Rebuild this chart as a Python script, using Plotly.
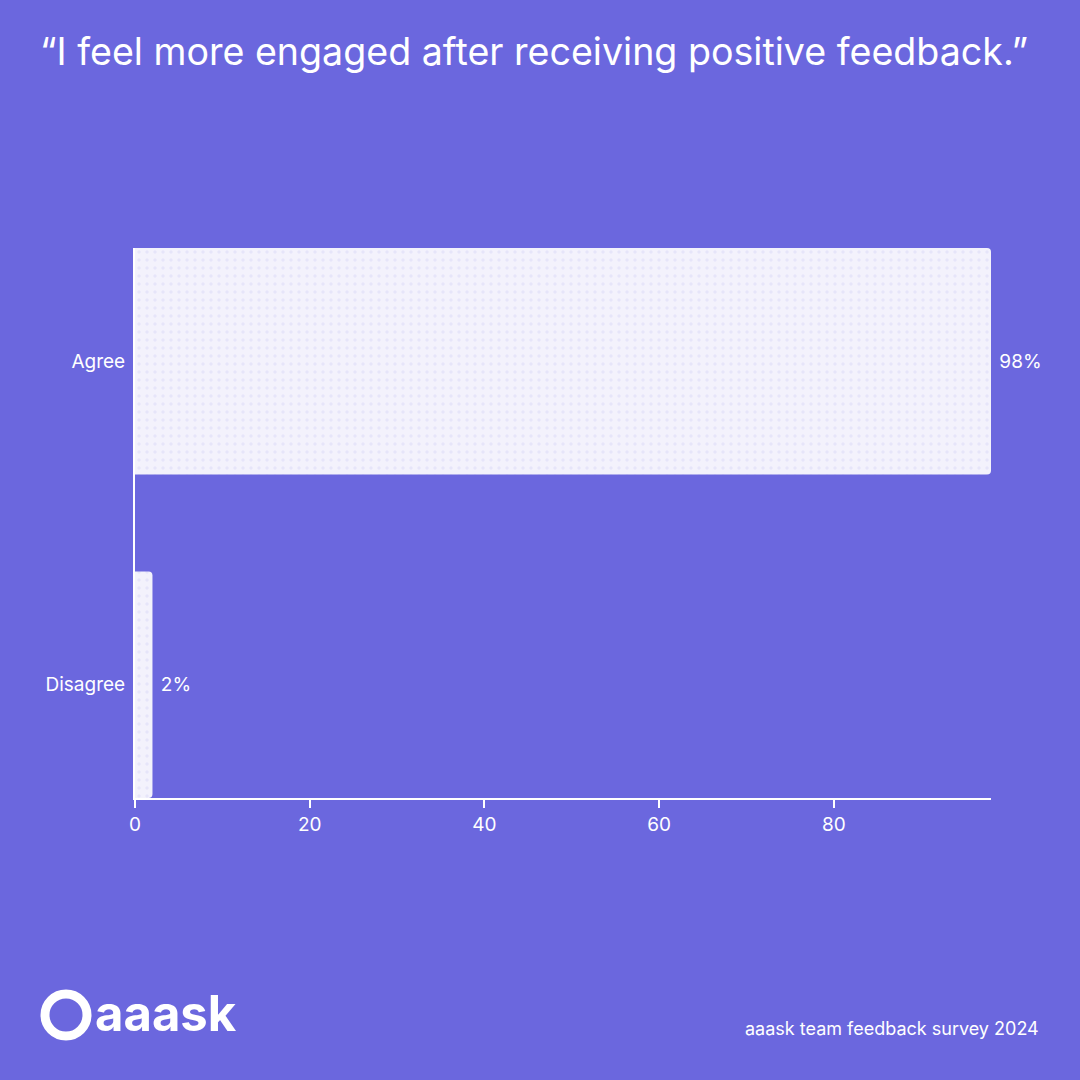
import plotly.graph_objects as go

categories = ["Disagree", "Agree"]
values = [2, 98]
labels = ["2%", "98%"]
x_ticks = [0, 20, 40, 60, 80]

BG = "#6B67DE"
FONT = "Inter"

fig = go.Figure(
    go.Bar(
        x=values,
        y=categories,
        orientation="h",
        width=0.7,
        text=[" " + s for s in labels],
        textposition="outside",
        textfont=dict(color="white", size=19, family=FONT),
        cliponaxis=False,
        marker=dict(
            color="#F3F2FC",
            line=dict(width=0),
            cornerradius=4,
            pattern=dict(shape=".", fgcolor="#D9D7F5", bgcolor="#F3F2FC", size=8, solidity=0.15),
        ),
    )
)

fig.update_layout(
    width=1080,
    height=1080,
    paper_bgcolor=BG,
    plot_bgcolor=BG,
    margin=dict(l=135, r=89, t=248, b=282),
    font=dict(family=FONT, color="white", size=19),
    showlegend=False,
    xaxis=dict(
        range=[0, 98],
        tickvals=x_ticks,
        showgrid=False,
        zeroline=False,
        showline=True,
        linecolor="white",
        linewidth=2,
        ticks="outside",
        tickcolor="white",
        tickwidth=2,
        ticklen=8,
        tickfont=dict(size=19),
    ),
    yaxis=dict(
        range=[-0.35, 1.35],
        showgrid=False,
        zeroline=False,
        showline=True,
        linecolor="white",
        linewidth=2,
        ticks="",
        ticklabelstandoff=4,
        tickfont=dict(size=19),
    ),
)

fig.add_annotation(
    text="\u201cI feel more engaged after receiving positive feedback.\u201d",
    xref="paper", yref="paper", x=-(135 - 38) / 856, y=1 + (248 - 52) / 550,
    xanchor="left", yanchor="middle", showarrow=False,
    font=dict(size=37.6, color="white", family=FONT),
)
fig.add_annotation(
    text="aaask team feedback survey 2024",
    xref="paper", yref="paper", x=1 + 50 / 856, y=-(1028 - 798) / 550,
    xanchor="right", yanchor="middle", showarrow=False,
    font=dict(size=18, color="white", family=FONT),
)
# logo
fig.add_shape(
    type="circle", xref="paper", yref="paper",
    x0=-(135 - 45) / 856, x1=-(135 - 87) / 856,
    y0=-(1036 - 798) / 550, y1=-(994 - 798) / 550,
    line=dict(color="white", width=9),
)
fig.add_annotation(
    text="<b>aaask</b>",
    xref="paper", yref="paper", x=-(135 - 93) / 856, y=-(1014 - 798) / 550,
    xanchor="left", yanchor="middle", showarrow=False,
    font=dict(size=49, color="white", family=FONT),
)

fig.write_html(
    "out.html",
    config={"displayModeBar": False},
    post_script="document.body.style.margin='0';",
)
